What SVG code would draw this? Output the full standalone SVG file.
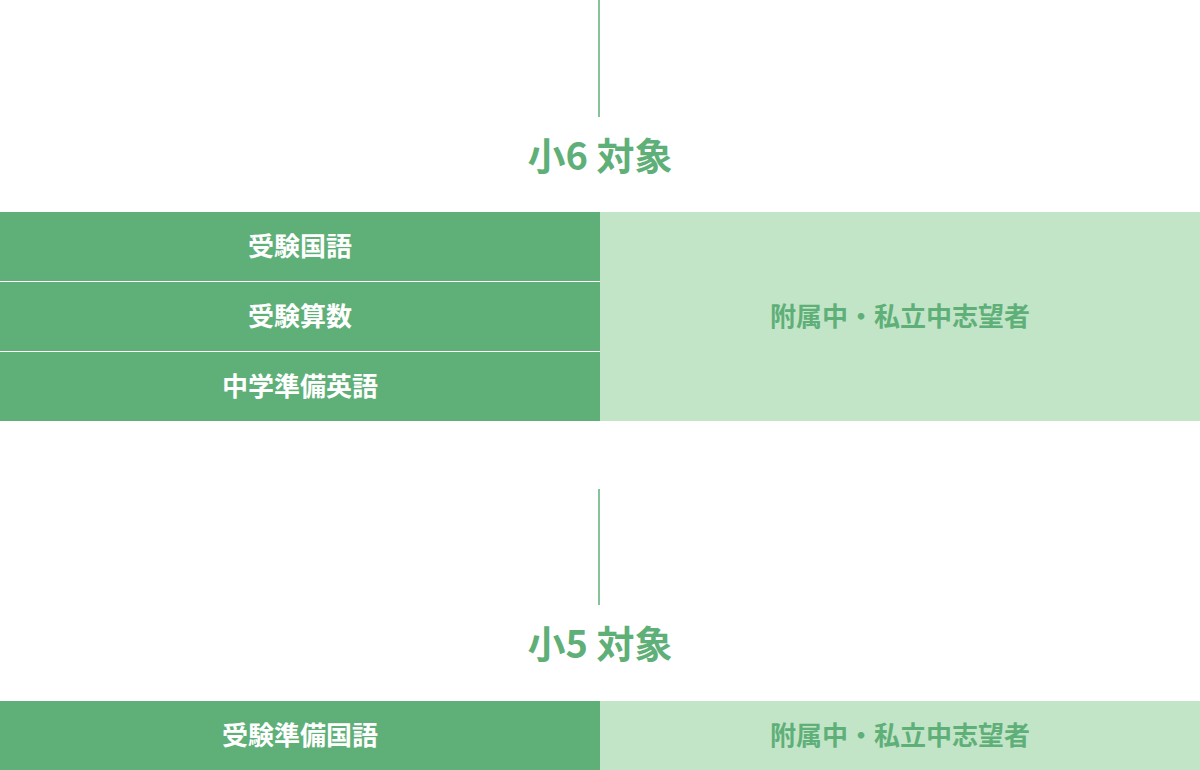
<svg xmlns="http://www.w3.org/2000/svg" width="1200" height="770" viewBox="0 0 1200 770">
<style>
.d{fill:#5faf78}.l{fill:#c2e5c8}
.t{font-family:"Noto Sans CJK JP",sans-serif;font-weight:700;text-anchor:middle}
.w{fill:#fff;font-size:26px}.g{fill:#5faf78;font-size:26px}
.h{fill:#5faf78;font-size:38px}
</style>
<g id="connectors" stroke="#5faf78" stroke-width="1.5">
<line x1="599" y1="0" x2="599" y2="117"/>
<line x1="599" y1="489" x2="599" y2="605"/>
</g>
<g id="title6"><text class="t h" x="600" y="170">小6 対象</text></g>
<g id="k6-1"><rect class="d" x="0" y="212" width="600" height="69"/><text class="t w" x="300" y="256">受験国語</text></g>
<g id="k6-2"><rect class="d" x="0" y="282" width="600" height="69"/><text class="t w" x="300" y="326">受験算数</text></g>
<g id="k6-3"><rect class="d" x="0" y="352" width="600" height="69"/><text class="t w" x="300" y="396">中学準備英語</text></g>
<g id="t6"><rect class="l" x="600" y="212" width="600" height="209"/><text class="t g" x="900" y="326">附属中・私立中志望者</text></g>
<g id="title5"><text class="t h" x="600" y="658">小5 対象</text></g>
<g id="k5-1"><rect class="d" x="0" y="701" width="600" height="69"/><text class="t w" x="300" y="745">受験準備国語</text></g>
<g id="t5"><rect class="l" x="600" y="701" width="600" height="69"/><text class="t g" x="900" y="745">附属中・私立中志望者</text></g>
</svg>
